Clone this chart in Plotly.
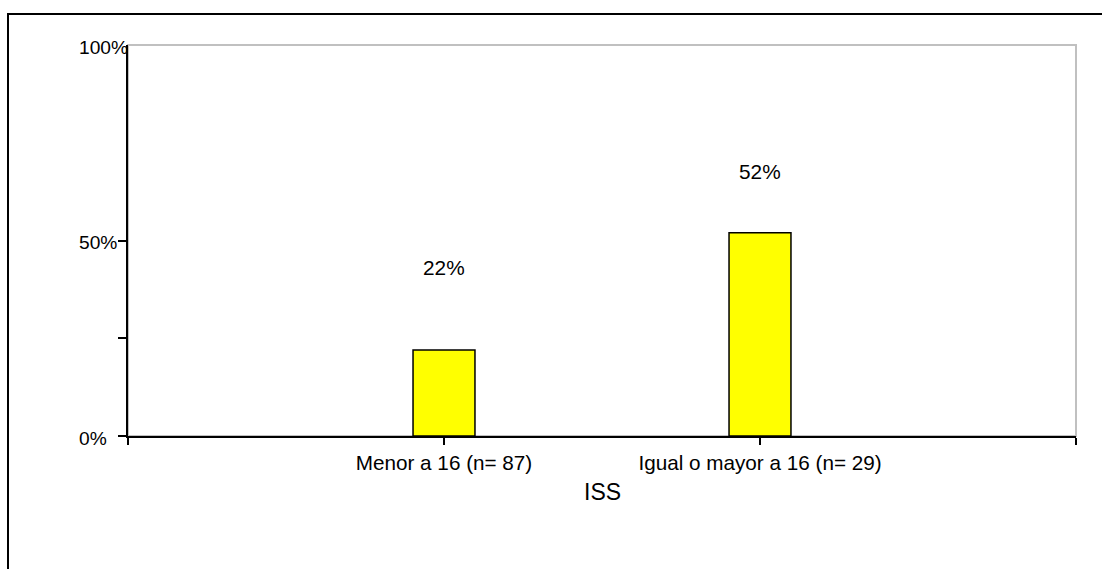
import plotly.graph_objects as go

# Data
categories = ["Menor a 16 (n= 87)", "Igual o mayor a 16 (n= 29)"]
values = [0.22, 0.52]
y_tick_values = [0, 0.5, 1.0]
y_tick_labels = ["0%", "50%", "100%"]
axis_title = "ISS"

# Layout geometry (pixels)
W, H = 1102, 569
PL, PR, PT, PB = 128, 1076, 45, 436   # plot area edges
FONT = "Liberation Sans, Arial, sans-serif"


def px_x(px):
    return (px - PL) / (PR - PL)


def px_y(py):
    return (PB - py) / (PB - PT)


positions = [i + 1 for i in range(len(categories))]
label_lift = [82, 61]  # pixel lift of value labels above each bar

fig = go.Figure()
fig.add_trace(go.Bar(
    x=positions,
    y=values,
    width=0.196,
    marker=dict(color="#FFFF00", line=dict(color="#000000", width=1.5)),
    hoverinfo="skip",
))

annotations = []
# value labels
for xp, v, lift in zip(positions, values, label_lift):
    annotations.append(dict(
        x=xp, y=v, xref="x", yref="y", text=f"{round(v * 100)}%",
        showarrow=False, yshift=lift, font=dict(family=FONT, size=20.8, color="#000000"),
        xanchor="center", yanchor="middle",
    ))
# y tick labels, left aligned
for tv, tl in zip(y_tick_values, y_tick_labels):
    annotations.append(dict(
        x=px_x(77), y=tv, xref="paper", yref="y", text=tl, showarrow=False,
        xanchor="left", yanchor="middle", yshift=-2,
        font=dict(family=FONT, size=19.2, color="#000000"),
    ))
# axis title
annotations.append(dict(
    x=0.5, y=px_y(491.5), xref="paper", yref="paper", text=axis_title,
    showarrow=False, xanchor="center", yanchor="middle",
    font=dict(family=FONT, size=23, color="#000000"),
))

shapes = [
    # gray plot-area frame (top and right visible)
    dict(type="rect", xref="paper", yref="paper", x0=0, y0=0, x1=1, y1=1,
         line=dict(color="#C0C0C0", width=2), layer="below"),
    # outer chart border
    dict(type="rect", xref="paper", yref="paper",
         x0=px_x(8), y0=px_y(14), x1=px_x(1115), y1=px_y(590),
         line=dict(color="#000000", width=2), layer="above"),
]

fig.update_layout(
    width=W, height=H,
    margin=dict(l=PL, r=W - PR, t=PT, b=H - PB),
    paper_bgcolor="#FFFFFF", plot_bgcolor="#FFFFFF",
    showlegend=False,
    font=dict(family=FONT, size=20, color="#000000"),
    annotations=annotations,
    shapes=shapes,
    xaxis=dict(
        range=[0, len(categories) + 1],
        tickmode="array",
        tickvals=list(range(len(categories) + 2)),
        ticktext=[""] + categories + [""],
        ticks="outside", ticklen=7, tickwidth=2, tickcolor="#000000",
        showline=True, linecolor="#000000", linewidth=2,
        showgrid=False, zeroline=False,
        tickfont=dict(family=FONT, size=20.7, color="#000000"),
        fixedrange=True,
    ),
    yaxis=dict(
        range=[0, 1],
        tickmode="array",
        tickvals=[0, 0.25, 0.5],
        showticklabels=False,
        ticks="outside", ticklen=8, tickwidth=2, tickcolor="#000000",
        showline=True, linecolor="#000000", linewidth=2,
        showgrid=False, zeroline=False,
        fixedrange=True,
    ),
)

fig.write_html("out.html", config={"displayModeBar": False})
